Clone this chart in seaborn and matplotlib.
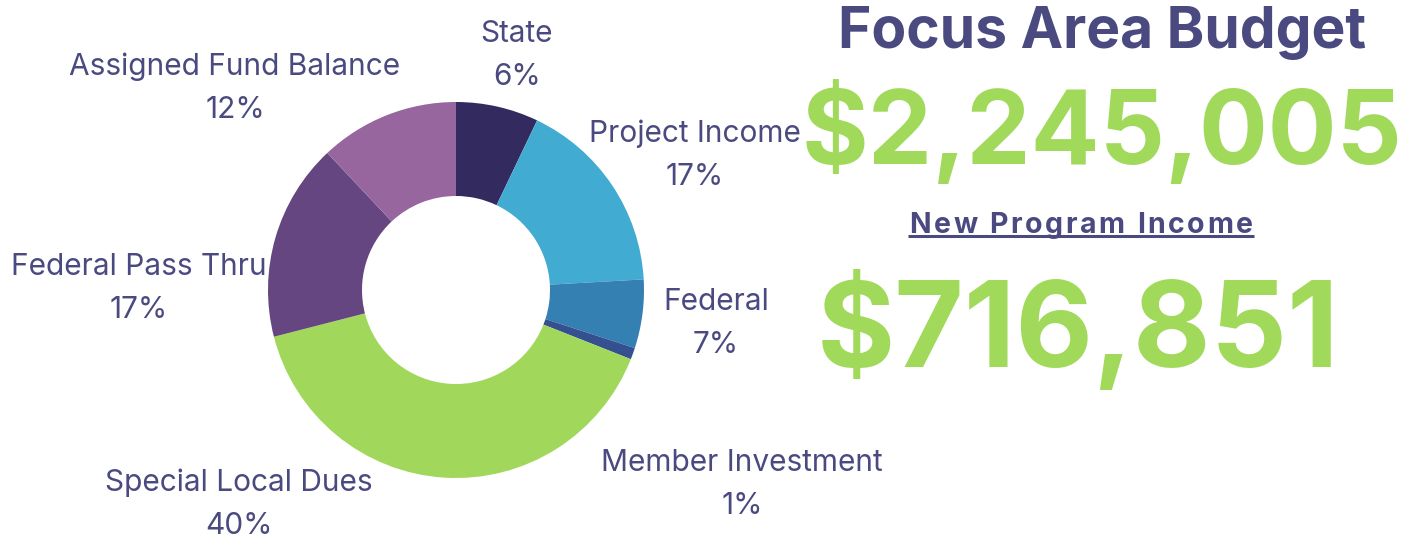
# Focus Area Budget donut chart with headline figures

import matplotlib.pyplot as plt
import seaborn as sns

# Data
sources = ["State", "Project Income", "Federal", "Member Investment",
           "Special Local Dues", "Federal Pass Thru", "Assigned Fund Balance"]
shares = [7.1, 17.0, 5.9, 1.0, 40.0, 17.0, 12.0]  # wedge sizes
pct_labels = ["6%", "17%", "7%", "1%", "40%", "17%", "12%"]
colors = ["#332a5f", "#41abd1", "#3480b3", "#34508f",
          "#a1d85b", "#654680", "#98669f"]
budget_total = "$2,245,005"
new_income = "$716,851"
sub_heading = "New Program Income"

sns.set_theme(style="white")
plt.rcParams["font.family"] = ["Inter", "DejaVu Sans"]

text_color = "#4a4a80"
green = "#a1d95b"

W, H = 1417, 538
fig = plt.figure(figsize=(W / 100, H / 100), dpi=100)
ax = fig.add_axes([0, 0, 1, 1])

# donut
palette = sns.color_palette(colors)
ax.pie(shares, colors=palette, startangle=90, counterclock=False,
       center=(456, H - 290), radius=188,
       wedgeprops=dict(width=94, linewidth=0))
# axes units = pixels
ax.set_xlim(0, W)
ax.set_ylim(0, H)
ax.set_aspect("equal")
ax.axis("off")

# labels (name on top, percent below), positions in pixels from top
label_pos = [(517, 34), (695, 134), (716, 302), (742, 463),
             (239, 483), (139, 267), (235, 67)]
for name, pct, (x, y) in zip(sources, pct_labels, label_pos):
    ax.text(x, H - y, name, ha="center", va="center", fontsize=21.5, color=text_color)
    ax.text(x, H - y - 43, pct, ha="center", va="center", fontsize=21.5, color=text_color)

# headline block
ax.text(1102, H - 33, "Focus Area Budget", ha="center", va="center",
        fontsize=41, fontweight="bold", color=text_color)
ax.text(1102, H - 133, budget_total, ha="center", va="center",
        fontsize=73.5, fontweight="bold", color=green)
ax.text(1078, H - 330, new_income, ha="center", va="center",
        fontsize=86, fontweight="bold", color=green)

# letter-spaced, underlined sub heading (drawn char by char)
renderer = fig.canvas.get_renderer()
sub_kw = dict(fontsize=20.5, fontweight="bold", color=text_color)


def text_width(s):
    t = ax.text(0, 0, s, **sub_kw)
    w = t.get_window_extent(renderer).width
    t.remove()
    return w


tracking = 2.6
bar_w = text_width("|")
offsets = [text_width(sub_heading[:i] + "|") - bar_w for i in range(len(sub_heading))]
total = text_width(sub_heading) + tracking * (len(sub_heading) - 1)
x_start = 1081 - total / 2
for i, ch in enumerate(sub_heading):
    if ch != " ":
        ax.text(x_start + offsets[i] + tracking * i, H - 233, ch,
                ha="left", va="baseline", **sub_kw)
ax.plot([x_start - 1, x_start + total + 1], [H - 236, H - 236],
        color=text_color, linewidth=2.2, solid_capstyle="butt")

plt.savefig("out.png", dpi=100)
